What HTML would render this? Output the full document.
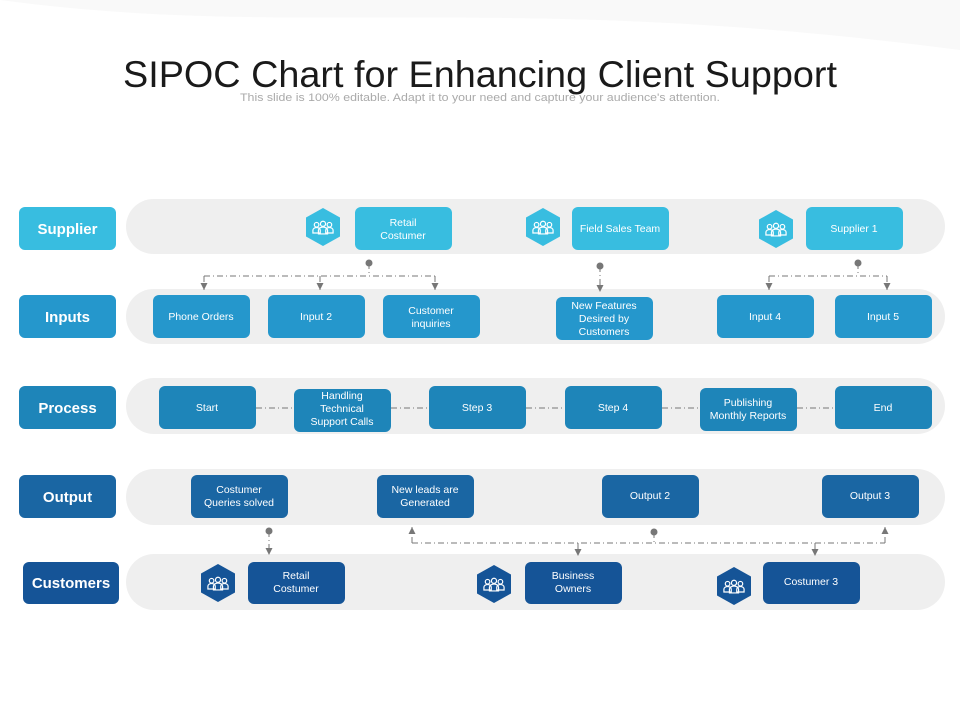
<!DOCTYPE html>
<html><head><meta charset="utf-8"><style>
html,body{margin:0;padding:0;background:#fff;}
svg{display:block;font-family:"Liberation Sans",sans-serif;}
</style></head><body>
<svg width="960" height="720" viewBox="0 0 960 720" xmlns="http://www.w3.org/2000/svg">
<defs>
<marker id="ad" viewBox="0 0 10 10" refX="10" refY="5" markerWidth="7" markerHeight="7" orient="auto"><path d="M0,0 L10,5 L0,10 z" fill="#777"/></marker>
<symbol id="ppl" viewBox="0 0 24 16"><g fill="none" stroke="#fff" stroke-width="1.3"><circle cx="5" cy="5" r="2.5"/><circle cx="12" cy="4" r="2.8"/><circle cx="19" cy="5" r="2.5"/><path d="M1,14 v-3 a4,3 0 0 1 8,0 v3 z M7,15 v-4 a5,3.5 0 0 1 10,0 v4 z M15,14 v-3 a4,3 0 0 1 8,0 v3 z"/></g></symbol>
</defs>
<path d="M0,0 C300,40 500,-10 960,50 L960,0 Z" fill="#f9f9f9"/>
<text x="480" y="87" text-anchor="middle" font-size="37" fill="#1a1a1a" textLength="714" lengthAdjust="spacingAndGlyphs">SIPOC Chart for Enhancing Client Support</text>
<text x="480" y="101" text-anchor="middle" font-size="11" fill="#aaa" textLength="480" lengthAdjust="spacingAndGlyphs">This slide is 100% editable. Adapt it to your need and capture your audience's attention.</text>

<g fill="#efefef">
<rect x="126" y="199" width="819" height="55" rx="27.5"/>
<rect x="126" y="289" width="819" height="55" rx="27.5"/>
<rect x="126" y="378" width="819" height="56" rx="28"/>
<rect x="126" y="469" width="819" height="56" rx="28"/>
<rect x="126" y="554" width="819" height="56" rx="28"/>
</g>

<g font-weight="bold" font-size="15" fill="#fff" text-anchor="middle">
<rect x="19" y="207" width="97" height="43" rx="6" fill="#38bde0"/><text x="67.5" y="234">Supplier</text>
<rect x="19" y="295" width="97" height="43" rx="6" fill="#2597cc"/><text x="67.5" y="322">Inputs</text>
<rect x="19" y="386" width="97" height="43" rx="6" fill="#1e85b9"/><text x="67.5" y="413">Process</text>
<rect x="19" y="475" width="97" height="43" rx="6" fill="#1a66a3"/><text x="67.5" y="502">Output</text>
<rect x="23" y="562" width="96" height="42" rx="6" fill="#155497"/><text x="71" y="588">Customers</text>
</g>

<!-- connectors -->
<g stroke="#777" stroke-width="1" fill="none" stroke-dasharray="6,3,1,3">
<path d="M204,276 H435"/><path d="M369,263 V276"/>
<path d="M204,276 V290" marker-end="url(#ad)"/><path d="M320,276 V290" marker-end="url(#ad)"/><path d="M435,276 V290" marker-end="url(#ad)"/>
<path d="M600,266 V292" marker-end="url(#ad)"/>
<path d="M769,276 H887"/><path d="M858,263 V276"/>
<path d="M769,276 V290" marker-end="url(#ad)"/><path d="M887,276 V290" marker-end="url(#ad)"/>
<path d="M269,531 V555" marker-end="url(#ad)"/>
<path d="M412,543 H885"/><path d="M654,532 V543"/>
<path d="M412,543 V527" marker-end="url(#ad)"/><path d="M885,543 V527" marker-end="url(#ad)"/>
<path d="M578,543 V556" marker-end="url(#ad)"/><path d="M815,543 V556" marker-end="url(#ad)"/>
<path d="M256,408 H294 M391,408 H429 M526,408 H565 M662,408 H700 M797,408 H835"/>
</g>
<g fill="#777"><circle cx="369" cy="263" r="3.5"/><circle cx="600" cy="266" r="3.5"/><circle cx="858" cy="263" r="3.5"/><circle cx="269" cy="531" r="3.5"/><circle cx="654" cy="532" r="3.5"/></g>

<!-- hexagons -->
<g>
<polygon points="323,208 340,217.5 340,236.5 323,246 306,236.5 306,217.5" fill="#38bde0"/><use href="#ppl" x="312" y="220" width="22" height="15"/>
<polygon points="543,208 560,217.5 560,236.5 543,246 526,236.5 526,217.5" fill="#38bde0"/><use href="#ppl" x="532" y="220" width="22" height="15"/>
<polygon points="776,210 793,219.5 793,238.5 776,248 759,238.5 759,219.5" fill="#38bde0"/><use href="#ppl" x="765" y="222" width="22" height="15"/>
<polygon points="218,564 235,573.5 235,592.5 218,602 201,592.5 201,573.5" fill="#155497"/><use href="#ppl" x="207" y="576" width="22" height="15"/>
<polygon points="494,565 511,574.5 511,593.5 494,603 477,593.5 477,574.5" fill="#155497"/><use href="#ppl" x="483" y="577" width="22" height="15"/>
<polygon points="734,567 751,576.5 751,595.5 734,605 717,595.5 717,576.5" fill="#155497"/><use href="#ppl" x="723" y="579" width="22" height="15"/>
</g>

<g font-size="10.5" fill="#fff" text-anchor="middle">
<g fill="#38bde0"><rect x="355" y="207" width="97" height="43" rx="6"/><rect x="572" y="207" width="97" height="43" rx="6"/><rect x="806" y="207" width="97" height="43" rx="6"/></g>
<text x="403" y="226">Retail</text><text x="403" y="239">Costumer</text>
<text x="620" y="232">Field Sales Team</text>
<text x="854" y="232">Supplier 1</text>
<g fill="#2597cc"><rect x="153" y="295" width="97" height="43" rx="6"/><rect x="268" y="295" width="97" height="43" rx="6"/><rect x="383" y="295" width="97" height="43" rx="6"/><rect x="556" y="297" width="97" height="43" rx="6"/><rect x="717" y="295" width="97" height="43" rx="6"/><rect x="835" y="295" width="97" height="43" rx="6"/></g>
<text x="201" y="320">Phone Orders</text><text x="316" y="320">Input 2</text>
<text x="431" y="314">Customer</text><text x="431" y="327">inquiries</text>
<text x="604" y="309">New Features</text><text x="604" y="322">Desired by</text><text x="604" y="335">Customers</text>
<text x="765" y="320">Input 4</text><text x="883" y="320">Input 5</text>
<g fill="#1e85b9"><rect x="159" y="386" width="97" height="43" rx="6"/><rect x="294" y="389" width="97" height="43" rx="6"/><rect x="429" y="386" width="97" height="43" rx="6"/><rect x="565" y="386" width="97" height="43" rx="6"/><rect x="700" y="388" width="97" height="43" rx="6"/><rect x="835" y="386" width="97" height="43" rx="6"/></g>
<text x="207" y="411">Start</text>
<text x="342" y="399">Handling</text><text x="342" y="412">Technical</text><text x="342" y="425">Support Calls</text>
<text x="477" y="411">Step 3</text><text x="613" y="411">Step 4</text>
<text x="748" y="406">Publishing</text><text x="748" y="419">Monthly Reports</text>
<text x="883" y="411">End</text>
<g fill="#1a66a3"><rect x="191" y="475" width="97" height="43" rx="6"/><rect x="377" y="475" width="97" height="43" rx="6"/><rect x="602" y="475" width="97" height="43" rx="6"/><rect x="822" y="475" width="97" height="43" rx="6"/></g>
<text x="239" y="493">Costumer</text><text x="239" y="506">Queries solved</text>
<text x="425" y="493">New leads are</text><text x="425" y="506">Generated</text>
<text x="650" y="499">Output 2</text><text x="870" y="499">Output 3</text>
<g fill="#155497"><rect x="248" y="562" width="97" height="42" rx="6"/><rect x="525" y="562" width="97" height="42" rx="6"/><rect x="763" y="562" width="97" height="42" rx="6"/></g>
<text x="296" y="579">Retail</text><text x="296" y="592">Costumer</text>
<text x="573" y="579">Business</text><text x="573" y="592">Owners</text>
<text x="811" y="585">Costumer 3</text>
</g>
</svg>
</body></html>
